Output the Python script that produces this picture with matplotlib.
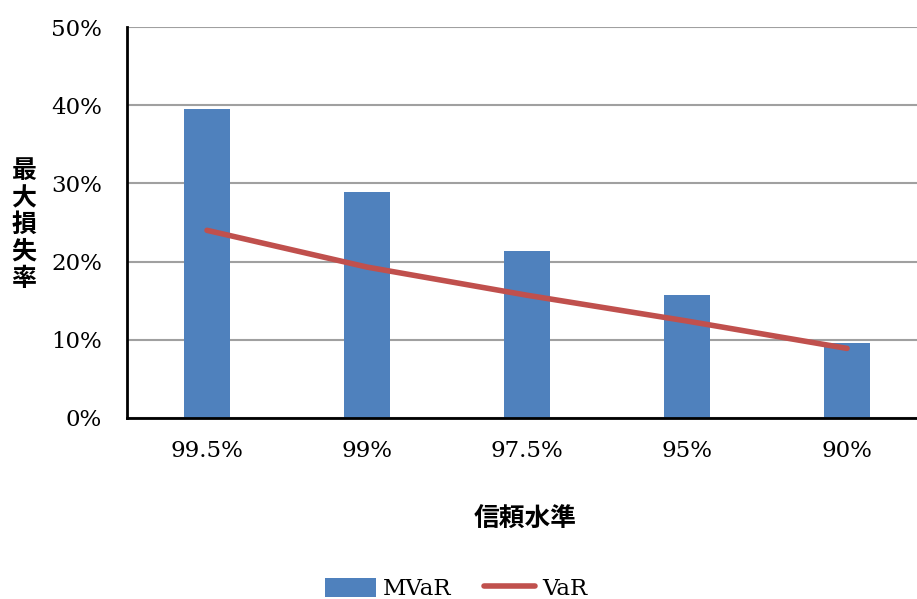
import matplotlib.pyplot as plt
import numpy as np

# chart values
levels = ['99.5%', '99%', '97.5%', '95%', '90%']
mvar = [39.5, 28.9, 21.4, 15.7, 9.6]
var = [24.0, 19.3, 15.7, 12.4, 8.9]
yticks = [0, 10, 20, 30, 40, 50]

serif = ['DejaVu Serif']
cjk = ['Noto Sans CJK JP', 'DejaVu Sans']

fig = plt.figure(figsize=(9.17, 5.99), dpi=100)
ax = fig.add_axes([127 / 917, 1 - 418 / 599, 800 / 917, (418 - 27) / 599])

x = np.arange(len(levels))
bars = ax.bar(x, mvar, width=0.286, color='#4F81BD', label='MVaR', zorder=2)
line, = ax.plot(x, var, color='#C0504D', lw=4, solid_capstyle='round', label='VaR', zorder=3)

ax.set_xlim(-0.5, len(levels) - 0.5)
ax.set_ylim(0, 50)
ax.set_yticks(yticks)
ax.set_yticklabels([f'{v}%' for v in yticks], family=serif, fontsize=16.5)
ax.set_xticks(x)
ax.set_xticklabels(levels, family=serif, fontsize=16.5)
ax.tick_params(axis='y', length=0, pad=18)
ax.tick_params(axis='x', length=0, pad=16)
ax.yaxis.grid(True, color='#a0a0a0', lw=1.5, zorder=1)
ax.set_axisbelow(True)

for s in ['top', 'right']:
    ax.spines[s].set_visible(False)
for s in ['left', 'bottom']:
    ax.spines[s].set_linewidth(2)
    ax.spines[s].set_color('black')

fig.text(24 / 917, 1 - 225 / 599, '\n'.join('最大損失率'), family=cjk, fontsize=18,
         fontweight='bold', ha='center', va='center', linespacing=1.15)
fig.text(525 / 917, 1 - 519 / 599, '信頼水準', family=cjk, fontsize=18.5,
         fontweight='bold', ha='center', va='center')

fig.legend(handles=[bars, line], loc='center', bbox_to_anchor=(456 / 917, 1 - 589 / 599),
           ncol=2, frameon=False, prop={'family': serif, 'size': 16.5},
           handlelength=2.25, handleheight=0.9, columnspacing=1.4, handletextpad=0.3)

fig.savefig('out.png', dpi=100)
